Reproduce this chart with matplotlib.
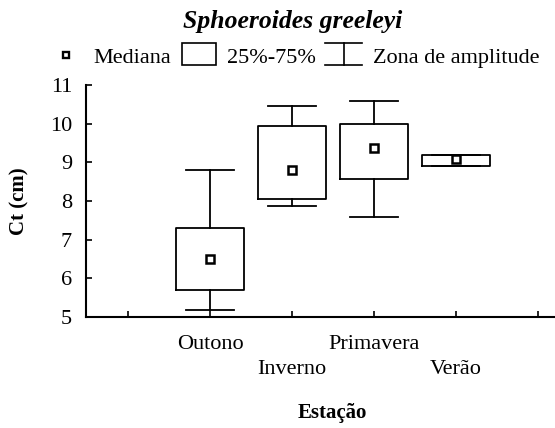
import matplotlib
matplotlib.use("Agg")
import matplotlib.pyplot as plt
from matplotlib.lines import Line2D
from matplotlib.patches import Rectangle

# ---- data ----
seasons = ["Outono", "Inverno", "Primavera", "Verão"]
whis_lo = [5.18, 7.87, 7.59, 8.91]
q1 = [5.70, 8.06, 8.57, 8.91]
median = [6.50, 8.80, 9.37, 9.08]
q3 = [7.30, 9.95, 10.00, 9.20]
whis_hi = [8.80, 10.46, 10.58, 9.20]
yticks = [5, 6, 7, 8, 9, 10, 11]

plt.rcParams['font.family'] = ['Liberation Serif', 'DejaVu Serif']

W, H = 555, 428
fig = plt.figure(figsize=(W / 100, H / 100), dpi=100)

def fx(x):
    return x / W

def fy(y):
    return 1 - y / H

ax = fig.add_axes([fx(86), fy(317), (W - 86) / W, (317 - 85) / H])

pos = list(range(1, len(seasons) + 1))
stats = []
for i in range(len(seasons)):
    stats.append(dict(whislo=whis_lo[i], q1=q1[i], med=median[i],
                      q3=q3[i], whishi=whis_hi[i], label=seasons[i]))

lw = 1.3
ax.bxp(stats, positions=pos, widths=0.82, capwidths=0.585, showfliers=False,
       boxprops=dict(color='black', linewidth=lw),
       whiskerprops=dict(color='black', linewidth=lw),
       capprops=dict(color='black', linewidth=lw),
       medianprops=dict(linestyle='none'))
ax.plot(pos, median, linestyle='none', marker='s', markersize=5.4,
        markerfacecolor='white', markeredgecolor='black',
        markeredgewidth=1.8, zorder=5)

ax.set_xlim(-0.512, 5.207)
ax.set_ylim(5, 11)
ax.set_yticks(yticks)
ax.set_yticklabels([str(v) for v in yticks])
ax.set_xticks(range(0, len(seasons) + 2))
labels = [""]
for i, s in enumerate(seasons):
    labels.append(s if i % 2 == 0 else "\n" + s)
labels.append("")
ax.set_xticklabels(labels, linespacing=1.45)

for s in ['top', 'right']:
    ax.spines[s].set_visible(False)
for s in ['left', 'bottom']:
    ax.spines[s].set_linewidth(1.5)
ax.tick_params(direction='in', length=4, width=1.2, labelsize=16)
ax.tick_params(axis='y', pad=10)
ax.tick_params(axis='x', pad=13)

# axis labels
fig.text(fx(19), fy(201), "Ct (cm)", rotation=90, ha='center', va='center',
         fontsize=15, fontweight='bold')
fig.text(fx(332), fy(418), "Estação", ha='center', va='baseline',
         fontsize=15, fontweight='bold')

# title
fig.text(fx(293), fy(28), "Sphoeroides greeleyi", ha='center', va='baseline',
         fontsize=18.5, fontweight='bold', fontstyle='italic')

# legend
tb = 63
fig.add_artist(Line2D([fx(65.5)], [fy(54.5)], marker='s', markersize=4,
                      markerfacecolor='white', markeredgecolor='black',
                      markeredgewidth=1.7, linestyle='none',
                      transform=fig.transFigure))
fig.text(fx(93), fy(tb), "Mediana", ha='left', va='baseline', fontsize=16)
fig.add_artist(Rectangle((fx(182), fy(65)), fx(216) - fx(182), fy(43) - fy(65),
                         fill=False, edgecolor='black', linewidth=1.2,
                         transform=fig.transFigure))
fig.text(fx(227), fy(tb), "25%-75%", ha='left', va='baseline', fontsize=16)
for xs, ys in [([325, 362], [43, 43]), ([343.5, 343.5], [43, 65]),
               ([325, 362], [65, 65])]:
    fig.add_artist(Line2D([fx(v) for v in xs], [fy(v) for v in ys],
                          color='black', linewidth=1.2,
                          transform=fig.transFigure))
fig.text(fx(373), fy(tb), "Zona de amplitude", ha='left', va='baseline',
         fontsize=16)

fig.savefig("out.png", dpi=100)
